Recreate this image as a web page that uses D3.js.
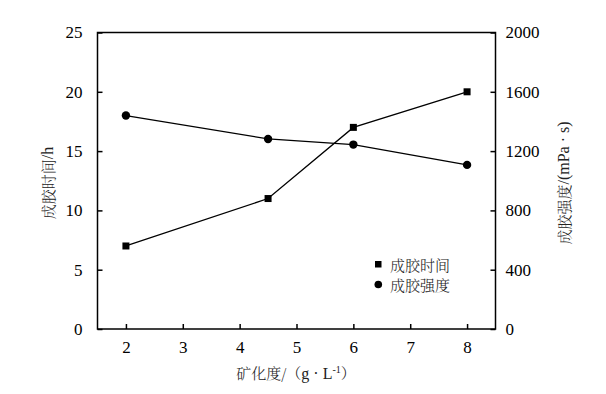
<!DOCTYPE html>
<html><head><meta charset="utf-8">
<script src="https://cdn.jsdelivr.net/npm/d3@7"></script>
<style>body{margin:0;background:#fff;}</style>
</head><body><svg id="c" width="606" height="394"></svg>
<script>
const xValues = [2, 4.5, 6, 8];
const gelTime = [7, 11, 17, 20];
const gelStrength = [1440, 1282, 1244, 1107];
const xTicks = [2, 3, 4, 5, 6, 7, 8];
const leftTicks = [0, 5, 10, 15, 20, 25];
const rightTicks = [0, 400, 800, 1200, 1600, 2000];
const seriesNames = ["成胶时间", "成胶强度"];

const SERIF = '"Liberation Serif"';
const CJK = '"Noto Serif CJK SC"';
const svg = d3.select("#c");
const L = 97.5, R = 495.5, T = 32.5, B = 329;
const x = d3.scaleLinear().domain([1.5, 8.5]).range([L, R]);
const yL = d3.scaleLinear().domain([0, 25]).range([B, T]);
const yR = d3.scaleLinear().domain([0, 2000]).range([B, T]);

svg.append("rect").attr("x", L).attr("y", T).attr("width", R - L).attr("height", B - T)
  .attr("fill", "none").attr("stroke", "#000").attr("stroke-width", 1.5);

const gx = svg.append("g").attr("transform", `translate(0,${B})`)
  .call(d3.axisBottom(x).tickValues(xTicks).tickSize(-5).tickPadding(12).tickFormat(d3.format("d")));
const gl = svg.append("g").attr("transform", `translate(${L},0)`)
  .call(d3.axisLeft(yL).tickValues(leftTicks).tickSize(-5).tickPadding(15).tickFormat(d3.format("d")));
const gr = svg.append("g").attr("transform", `translate(${R},0)`)
  .call(d3.axisRight(yR).tickValues(rightTicks).tickSize(-5).tickPadding(10).tickFormat(d3.format("d")));
[gx, gl, gr].forEach(g => {
  g.attr("font-family", SERIF).attr("font-size", 17);
  g.select(".domain").remove();
  g.selectAll("line").attr("stroke", "#000").attr("stroke-width", 1.5);
  g.selectAll("text").attr("font-family", SERIF).attr("font-size", 17).attr("fill", "#000");
});

const lineL = d3.line().x((d, i) => x(xValues[i])).y(d => yL(d));
const lineR = d3.line().x((d, i) => x(xValues[i])).y(d => yR(d));
svg.append("path").attr("d", lineL(gelTime)).attr("fill", "none").attr("stroke", "#000").attr("stroke-width", 1.3);
svg.append("path").attr("d", lineR(gelStrength)).attr("fill", "none").attr("stroke", "#000").attr("stroke-width", 1.3);

const sq = 7;
svg.selectAll(".sq").data(gelTime).enter().append("rect")
  .attr("x", (d, i) => x(xValues[i]) - sq / 2).attr("y", d => yL(d) - sq / 2)
  .attr("width", sq).attr("height", sq).attr("fill", "#000");
svg.selectAll(".ci").data(gelStrength).enter().append("circle")
  .attr("cx", (d, i) => x(xValues[i])).attr("cy", d => yR(d)).attr("r", 4.2).attr("fill", "#000");

// legend
svg.append("rect").attr("x", 375).attr("y", 261).attr("width", 6.5).attr("height", 6.5).attr("fill", "#000");
svg.append("circle").attr("cx", 378.3).attr("cy", 284.5).attr("r", 3.8).attr("fill", "#000");
[0, 1].forEach(i => {
  svg.append("text").attr("x", 390).attr("y", 264.5 + i * 20).attr("dominant-baseline", "central")
    .attr("font-size", 15).attr("font-family", CJK).attr("font-weight", 300).attr("fill", "#222").text(seriesNames[i]);
});

// axis titles
const xt = svg.append("text").attr("x", 296).attr("y", 379).attr("text-anchor", "middle").attr("font-size", 15).attr("fill", "#222");
xt.append("tspan").attr("font-family", CJK).attr("font-weight", 300).text("矿化度/（");
xt.append("tspan").attr("font-family", SERIF).attr("font-size", 16).text("g · L");
xt.append("tspan").attr("dy", -6).attr("font-family", SERIF).attr("font-size", 10).text("-1");
xt.append("tspan").attr("dy", 6).attr("font-family", CJK).attr("font-weight", 300).text("）");

const lt = svg.append("text").attr("transform", "translate(47,183) rotate(-90)").attr("text-anchor", "middle")
  .attr("dominant-baseline", "central").attr("font-size", 15).attr("fill", "#222");
lt.append("tspan").attr("font-family", CJK).attr("font-weight", 300).text("成胶时间");
lt.append("tspan").attr("font-family", SERIF).attr("font-size", 16).text("/h");

const rt = svg.append("text").attr("transform", "translate(563,183) rotate(-90)").attr("text-anchor", "middle")
  .attr("dominant-baseline", "central").attr("font-size", 15).attr("fill", "#222");
rt.append("tspan").attr("font-family", CJK).attr("font-weight", 300).text("成胶强度");
rt.append("tspan").attr("font-family", SERIF).attr("font-size", 16).text("/(mPa · s)");
</script></body></html>
